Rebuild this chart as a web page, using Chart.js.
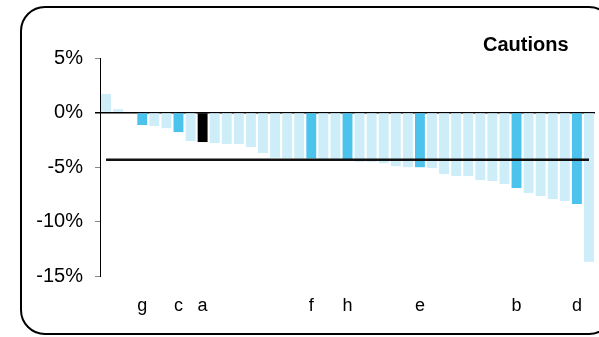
<!DOCTYPE html>
<html>
<head>
<meta charset="utf-8">
<script src="https://cdn.jsdelivr.net/npm/chart.js@4.4.1/dist/chart.umd.min.js"></script>
<style>
    body { margin: 0; background: #fff; }
    #wrap { position: relative; width: 599px; height: 337px; overflow: hidden; }
    #frame { position: absolute; left: 20px; top: 6px; width: 590px; height: 325px; border: 2.5px solid #000; border-radius: 25px; }
    #title { position: absolute; left: 483px; top: 33px; font: bold 20px "Liberation Sans", Arial, sans-serif; color: #000; }
    canvas { position: absolute; left: 0; top: 0; }
</style>
</head>
<body>
<div id="wrap">
    <div id="frame"></div>
    <canvas id="chart" width="599" height="337"></canvas>
    <div id="title">Cautions</div>
</div>
<script>
// one bar per item, sorted high to low; only some carry a letter
const labels = ['', '', '', 'g', '', '', 'c', '', 'a', '', '', '', '', '', '', '', '', 'f', '', '', 'h',
    '', '', '', '', '', 'e', '', '', '', '', '', '', '', 'b', '', '', '', '', 'd', ''];
const values = [1.7, 0.3, 0.0, -1.15, -1.24, -1.43, -1.8, -2.62, -2.71, -2.8, -2.88, -2.88, -3.16, -3.72,
    -4.15, -4.18, -4.2, -4.22, -4.25, -4.27, -4.3, -4.52, -4.52, -4.65, -4.92, -5.02, -5.02, -5.1,
    -5.65, -5.83, -5.83, -6.2, -6.28, -6.56, -6.93, -7.38, -7.66, -7.93, -8.12, -8.4, -13.7];
const average = -4.33;
const yTicks = [5, 0, -5, -10, -15];

const lightBlue = '#CDEDF9';
const midBlue = '#4CC3EC';

const barColors = labels.map((l) => {
    if (l === 'a') return '#000000';
    if (l !== '') return midBlue;
    return lightBlue;
});

const fontFamily = '"Liberation Sans", Arial, sans-serif';

new Chart(document.getElementById('chart'), {
    type: 'bar',
    data: {
        labels: labels,
        datasets: [
            {
                type: 'line',
                data: labels.map(() => average),
                borderColor: '#111',
                borderWidth: 2.5,
                pointRadius: 0,
                order: 0
            },
            {
                data: values,
                backgroundColor: barColors,
                categoryPercentage: 1,
                barPercentage: 0.82,
                order: 1
            }
        ]
    },
    options: {
        responsive: false,
        animation: false,
        layout: { padding: { top: 58, right: 4, bottom: 21, left: 0 } },
        plugins: { legend: { display: false }, tooltip: { enabled: false } },
        scales: {
            x: {
                afterFit: (scale) => { scale.paddingLeft = 0; scale.paddingRight = 0; scale.height = 40; },
                grid: { display: false, drawTicks: false },
                border: { display: false },
                ticks: {
                    autoSkip: false,
                    maxRotation: 0,
                    padding: 19,
                    color: '#000',
                    font: { family: fontFamily, size: 18 }
                }
            },
            y: {
                min: -15,
                max: 5,
                afterFit: (scale) => { scale.width = 100; scale.paddingTop = 0; scale.paddingBottom = 0; },
                afterBuildTicks: (scale) => { scale.ticks = yTicks.map(v => ({ value: v })); },
                border: { display: true, color: '#000', width: 1 },
                grid: {
                    drawOnChartArea: true,
                    tickLength: 5,
                    color: (ctx) => ctx.tick && ctx.tick.value === 0 ? '#000' : 'transparent',
                    lineWidth: (ctx) => ctx.tick && ctx.tick.value === 0 ? 1.5 : 1,
                    tickColor: (ctx) => ctx.tick && ctx.tick.value === 0 ? '#000' : '#888'
                },
                ticks: {
                    padding: 12,
                    color: '#000',
                    font: { family: fontFamily, size: 20 },
                    callback: (v) => v + '%'
                }
            }
        }
    }
});
</script>
</body>
</html>
